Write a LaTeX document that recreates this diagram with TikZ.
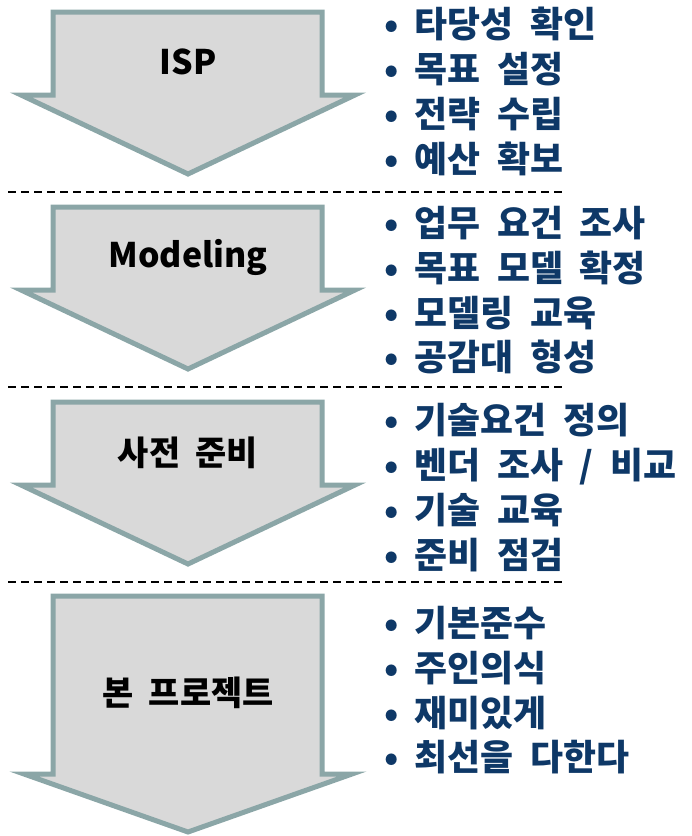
\documentclass[tikz,border=0pt]{standalone}
\usepackage{fontspec}
\setmainfont{Noto Sans CJK KR}[WordSpace=2.0]
\usetikzlibrary{positioning}
\definecolor{arrowfill}{RGB}{217,217,217}
\definecolor{arrowline}{RGB}{139,166,167}
\definecolor{itemblue}{RGB}{14,56,103}

\begin{document}
\begin{tikzpicture}[x=1bp, y=-1bp,
    stage/.style={draw=arrowline, fill=arrowfill, line width=5bp, line join=miter},
    stagelabel/.style={font=\fontsize{34}{40}\selectfont\bfseries, text=black},
    items/.style={anchor=north west, align=left, inner sep=0pt, text=itemblue,
      font=\fontsize{36}{45}\selectfont\bfseries},
    separator/.style={dash pattern=on 8bp off 5bp, line width=2bp}]
    \useasboundingbox (0,0) rectangle (692,836);

    % Stage arrows
    \draw[stage] (53,12) -- (322,12) -- (322,95) -- (355,95) -- (188,174) -- (21,95) -- (53,95) -- cycle;
    \draw[stage] (53,207) -- (322,207) -- (322,290) -- (355,290) -- (188,369) -- (21,290) -- (53,290) -- cycle;
    \draw[stage] (53,402) -- (322,402) -- (322,485) -- (355,485) -- (188,564) -- (21,485) -- (53,485) -- cycle;
    \draw[stage] (53,596) -- (322,596) -- (322,774) -- (352,774) -- (188,832) -- (24,774) -- (53,774) -- cycle;

    % Stage names
    \node[stagelabel] (isp) at (188,62) {ISP};
    \node[stagelabel] (modeling) at (188,257) {Modeling};
    \node[stagelabel] (prep) at (188,453) {사전 준비};
    \node[stagelabel] (project) at (188,693) {본 프로젝트};

    % Separators
    \foreach \y in {192,387,582}
        \draw[separator] (8,\y) -- (562,\y);

    % Tasks of each stage
    \node[items] (ispitems) at (384,7) {• 타당성 확인\\• 목표 설정\\• 전략 수립\\• 예산 확보};
    \node[items] (modelitems) at (384,206) {• 업무 요건 조사\\• 목표 모델 확정\\• 모델링 교육\\• 공감대 형성};
    \node[items] (prepitems) at (384,403) {• 기술요건 정의\\• 벤더 조사 / 비교\\• 기술 교육\\• 준비 점검};
    \node[items] (projectitems) at (384,606) {• 기본준수\\• 주인의식\\• 재미있게\\• 최선을 다한다};
\end{tikzpicture}
\end{document}
